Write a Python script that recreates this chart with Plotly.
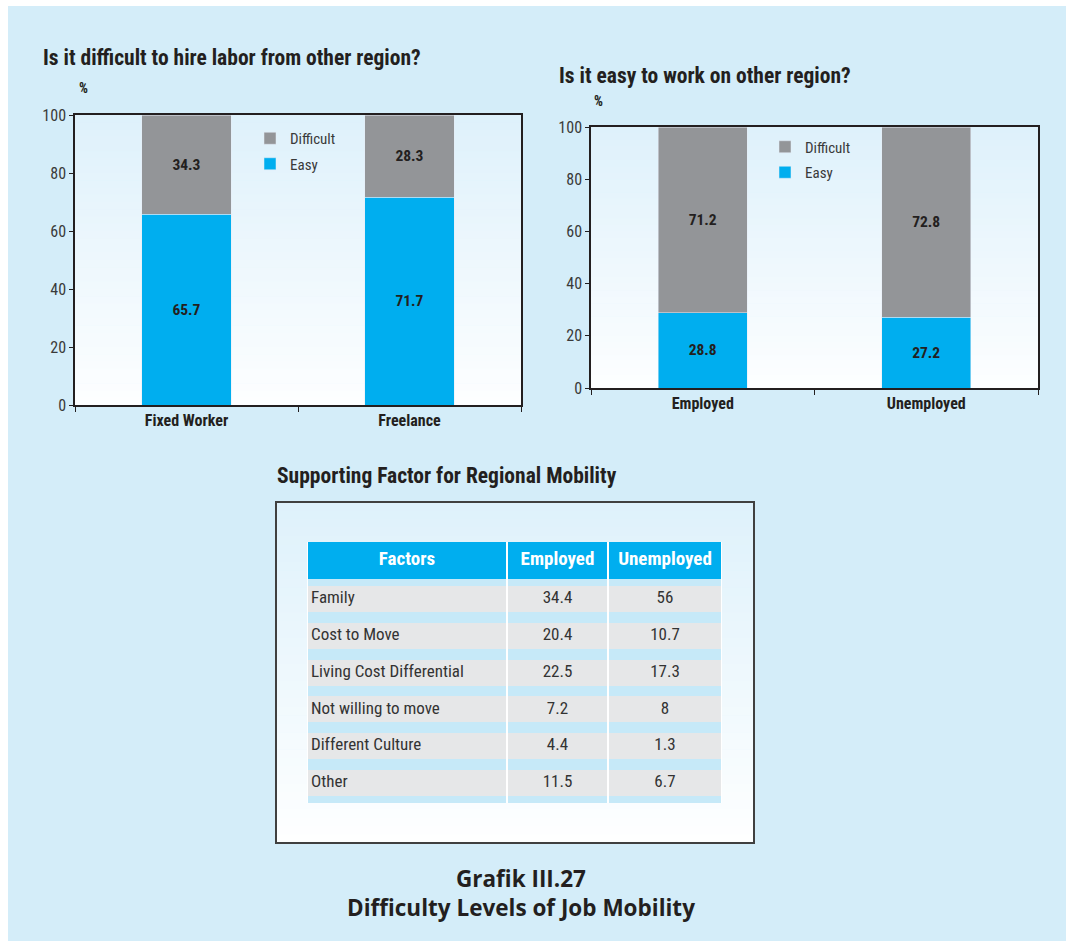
import plotly.graph_objects as go

# ---------------- data ----------------
hire_categories = ["Fixed Worker", "Freelance"]
hire_easy = [65.7, 71.7]
hire_difficult = [34.3, 28.3]

work_categories = ["Employed", "Unemployed"]
work_easy = [28.8, 27.2]
work_difficult = [71.2, 72.8]

table_headers = ["Factors", "Employed", "Unemployed"]
factors = ["Family", "Cost to Move", "Living Cost Differential",
           "Not willing to move", "Different Culture", "Other"]
employed_vals = [34.4, 20.4, 22.5, 7.2, 4.4, 11.5]
unemployed_vals = [56, 10.7, 17.3, 8, 1.3, 6.7]

y_ticks = [0, 20, 40, 60, 80, 100]

# ---------------- styling ----------------
W, H = 1066, 941
NARROW = "Liberation Sans Narrow, Roboto Condensed, Arial Narrow, Roboto, sans-serif"
WIDE = "Open Sans, Lato, sans-serif"
DARK = "#231f20"
GRAY = "#939598"
BLUE = "#00aeef"
PAGE = "#d4edf9"


def px(x):
    return x / W


def py(y):
    return 1 - y / H


def lerp(c1, c2, t):
    return tuple(round(a + (b - a) * t) for a, b in zip(c1, c2))


def gradient_shapes(x0, y0, x1, y1, top, bottom, n=40):
    out = []
    step = (y1 - y0) / n
    for i in range(n):
        c = lerp(top, bottom, (i + 0.5) / n)
        out.append(dict(type="rect", xref="paper", yref="paper", layer="below",
                        x0=px(x0), x1=px(x1), y0=py(y0 + i * step + step + 0.6),
                        y1=py(y0 + i * step), line=dict(width=0),
                        fillcolor="rgb(%d,%d,%d)" % c))
    return out


fig = go.Figure()

bar_text = dict(texttemplate="%{y}", textposition="inside", insidetextanchor="middle",
                textangle=0, constraintext="none",
                textfont=dict(family=NARROW, size=15.5, color=DARK, weight="bold"))

# ---------------- chart 1 ----------------
fig.add_trace(go.Bar(x=hire_categories, y=hire_easy, name="Easy", marker_color=BLUE,
                     xaxis="x", yaxis="y", legend="legend", legendgroup="easy1",
                     legendrank=2, **bar_text))
fig.add_trace(go.Bar(x=hire_categories, y=hire_difficult, name="Difficult", marker_color=GRAY,
                     xaxis="x", yaxis="y", legend="legend", legendgroup="diff1",
                     legendrank=1, **bar_text))

# ---------------- chart 2 ----------------
fig.add_trace(go.Bar(x=work_categories, y=work_easy, name="Easy", marker_color=BLUE,
                     xaxis="x2", yaxis="y2", legend="legend2", legendgroup="easy2",
                     legendrank=2, **bar_text))
fig.add_trace(go.Bar(x=work_categories, y=work_difficult, name="Difficult", marker_color=GRAY,
                     xaxis="x2", yaxis="y2", legend="legend2", legendgroup="diff2",
                     legendrank=1, **bar_text))

# ---------------- table (heatmap cells on its own axes) ----------------
col_widths = [200, 101, 114]
header_h, band_edge, row_h, band_mid = 37, 7, 26, 10.8

x_edges = [0]
for w in col_widths:
    x_edges.append(x_edges[-1] + w)

y_edges = [0, header_h]
z_rows = [[0, 0, 0]]
row_centers = []
for i in range(len(factors)):
    y_edges.append(y_edges[-1] + (band_edge if i == 0 else band_mid))
    z_rows.append([2, 2, 2])
    row_centers.append(y_edges[-1] + row_h / 2)
    y_edges.append(y_edges[-1] + row_h)
    z_rows.append([1, 1, 1])
y_edges.append(y_edges[-1] + band_edge)
z_rows.append([2, 2, 2])

fig.add_trace(go.Heatmap(x=x_edges, y=y_edges, z=z_rows, xaxis="x3", yaxis="y3",
                         zmin=0, zmax=2, showscale=False, xgap=2, ygap=0,
                         colorscale=[[0, BLUE], [0.5, "#e6e7e8"], [1, "#c6e9f8"]],
                         hoverinfo="skip"))

col_centers = [(x_edges[i] + x_edges[i + 1]) / 2 for i in range(len(col_widths))]
fig.add_trace(go.Scatter(x=col_centers, y=[header_h / 2] * 3, text=table_headers,
                         mode="text", textposition="middle center", xaxis="x3", yaxis="y3",
                         textfont=dict(family=NARROW, size=19, color="white", weight="bold"),
                         hoverinfo="skip", showlegend=False, cliponaxis=False))
fig.add_trace(go.Scatter(x=[4] * len(factors), y=row_centers, text=factors,
                         mode="text", textposition="middle right", xaxis="x3", yaxis="y3",
                         textfont=dict(family=NARROW, size=17, color="#333333"),
                         hoverinfo="skip", showlegend=False, cliponaxis=False))
fig.add_trace(go.Scatter(x=[col_centers[1]] * len(factors), y=row_centers,
                         text=[f"{v:g}" for v in employed_vals],
                         mode="text", textposition="middle center", xaxis="x3", yaxis="y3",
                         textfont=dict(family=NARROW, size=17, color="#333333"),
                         hoverinfo="skip", showlegend=False, cliponaxis=False))
fig.add_trace(go.Scatter(x=[col_centers[2]] * len(factors), y=row_centers,
                         text=[f"{v:g}" for v in unemployed_vals],
                         mode="text", textposition="middle center", xaxis="x3", yaxis="y3",
                         textfont=dict(family=NARROW, size=17, color="#333333"),
                         hoverinfo="skip", showlegend=False, cliponaxis=False))

# ---------------- axes ----------------
def cat_axis(domain, anchor):
    return dict(domain=domain, anchor=anchor, range=[-0.5, 1.5], showline=True, mirror=True,
                linecolor=DARK, linewidth=1.5, ticks="outside", ticklen=5, tickwidth=1.2,
                tickcolor=DARK, tickson="boundaries", showgrid=False, zeroline=False,
                automargin=False,
                tickfont=dict(family=NARROW, size=16, color=DARK, weight="bold"),
                fixedrange=True)


def val_axis(domain, anchor):
    return dict(domain=domain, anchor=anchor, range=[0, 100], tickvals=y_ticks,
                showline=True, mirror=True, linecolor=DARK, linewidth=1.5,
                ticks="outside", ticklen=4, tickwidth=1.2, tickcolor=DARK, showgrid=False,
                zeroline=False, automargin=False,
                tickfont=dict(family=NARROW, size=16, color="#3a3a3a"),
                fixedrange=True)


shapes = [dict(type="rect", xref="paper", yref="paper", layer="below",
               x0=px(8), x1=1, y0=0, y1=py(6), line=dict(width=0), fillcolor=PAGE)]
shapes += gradient_shapes(75, 115, 521, 405, (222, 241, 251), (253, 254, 255))
shapes += gradient_shapes(591, 127, 1038, 388, (222, 241, 251), (253, 254, 255))
shapes += gradient_shapes(276, 502, 754, 843, (222, 241, 251), (254, 255, 255))
shapes.append(dict(type="rect", xref="paper", yref="paper", layer="below",
                   x0=px(307), x1=px(722), y0=py(803), y1=py(542),
                   line=dict(width=0), fillcolor="white"))
shapes.append(dict(type="rect", xref="paper", yref="paper", layer="below",
                   x0=px(276), x1=px(754), y0=py(843), y1=py(502),
                   line=dict(width=2, color="#404040"), fillcolor="rgba(0,0,0,0)"))

annotations = [
    dict(text="Is it difficult to hire labor from other region?", x=px(41), y=py(58),
         font=dict(family=NARROW, size=21.5, color=DARK, weight="bold")),
    dict(text="%", x=px(77), y=py(88), font=dict(family=NARROW, size=14, color=DARK, weight="bold")),
    dict(text="Is it easy to work on other region?", x=px(557), y=py(75),
         font=dict(family=NARROW, size=21.5, color=DARK, weight="bold")),
    dict(text="%", x=px(592), y=py(101), font=dict(family=NARROW, size=14, color=DARK, weight="bold")),
    dict(text="Supporting Factor for Regional Mobility", x=px(275), y=py(475),
         font=dict(family=NARROW, size=21.5, color=DARK, weight="bold")),
]
for a in annotations:
    a.update(xref="paper", yref="paper", xanchor="left", yanchor="middle", showarrow=False)

annotations.append(dict(text="Grafik III.27<br>Difficulty Levels of Job Mobility",
                        x=px(521), y=py(893), xref="paper", yref="paper", xanchor="center",
                        yanchor="middle", showarrow=False, align="center",
                        font=dict(family=WIDE, size=22.5, color=DARK, weight="bold")))

leg_common = dict(xanchor="left", yanchor="top", traceorder="grouped",
                  tracegroupgap=3, bgcolor="rgba(0,0,0,0)", borderwidth=0,
                  font=dict(family=NARROW, size=15, color="#3a3a3a"), itemclick=False,
                  itemdoubleclick=False)

fig.update_layout(
    width=W, height=H, margin=dict(l=0, r=0, t=0, b=0, autoexpand=False),
    paper_bgcolor="white", plot_bgcolor="rgba(0,0,0,0)",
    barmode="stack", bargap=0.6, showlegend=True,
    xaxis=cat_axis([px(75), px(521)], "y"),
    yaxis=val_axis([py(405), py(115)], "x"),
    xaxis2=cat_axis([px(591), px(1038)], "y2"),
    yaxis2=val_axis([py(388), py(127)], "x2"),
    xaxis3=dict(domain=[px(307), px(722)], anchor="y3", range=[0, x_edges[-1]],
                visible=False, fixedrange=True, automargin=False),
    yaxis3=dict(domain=[py(803), py(542)], anchor="x3", range=[y_edges[-1], 0],
                visible=False, fixedrange=True, automargin=False),
    legend=dict(x=px(250), y=py(122), **leg_common),
    legend2=dict(x=px(765), y=py(130.5), **leg_common),
    shapes=shapes,
    annotations=annotations,
)

fig.write_html("out.html", config={"displayModeBar": False},
               post_script="document.body.style.margin='0';")
